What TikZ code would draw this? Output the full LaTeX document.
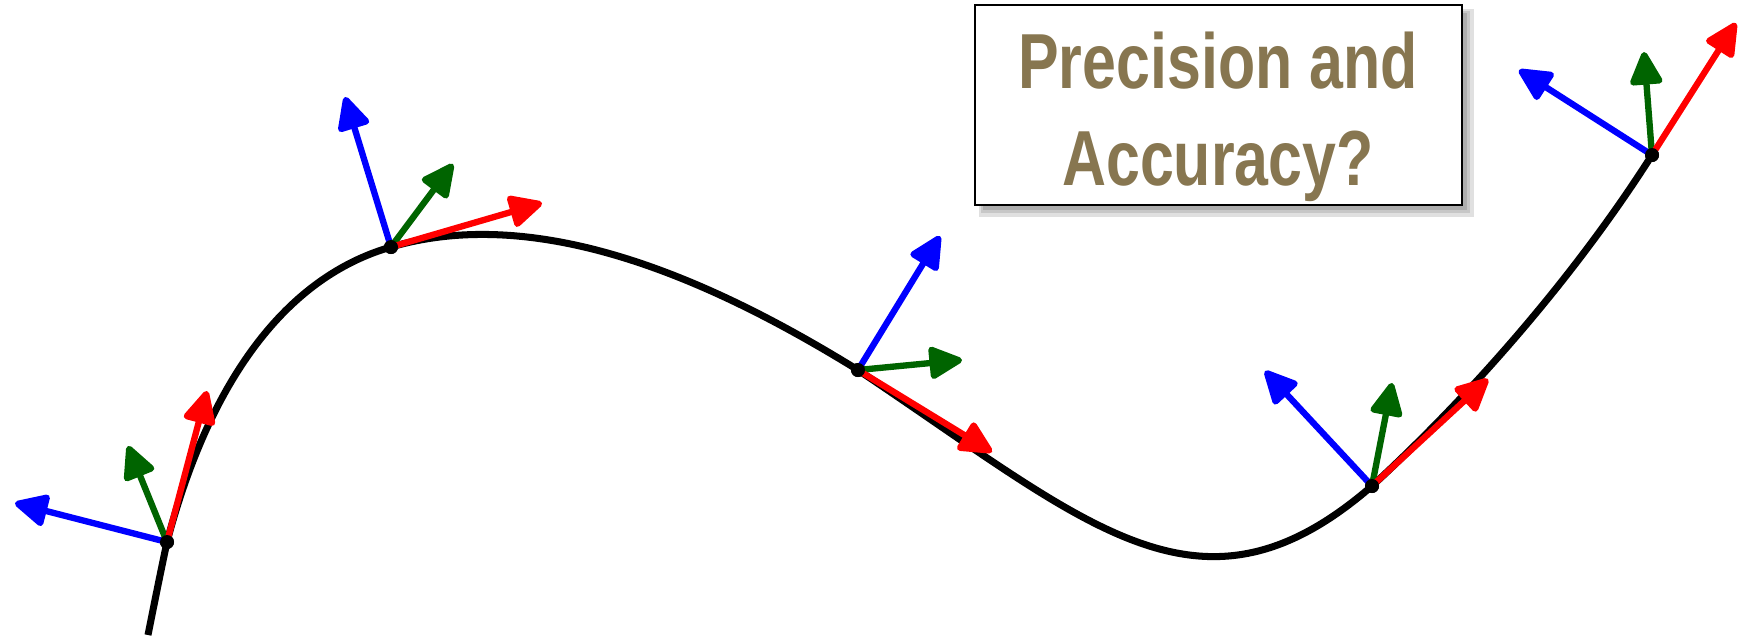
\documentclass[tikz,border=0pt]{standalone}
\usepackage{fontspec}
\usetikzlibrary{arrows.meta}
\newfontfamily\titlefont{Liberation Sans}[FakeStretch=0.78]
\definecolor{titlecol}{RGB}{135,118,80}
\definecolor{dkgreen}{RGB}{0,100,0}
\tikzset{
  vec/.style={line width=1.8pt, -{Triangle[length=10.5pt,width=9.8pt,round]}},
  curveline/.style={line width=2pt, black},
  dot/.style={circle, fill=black, inner sep=0pt, minimum size=0.14cm},
  titlebox/.style={draw=black, line width=0.6pt, fill=white, minimum width=4.87cm, minimum height=2cm, inner sep=0pt},
  titletext/.style={font=\titlefont\bfseries\fontsize{22.2}{27.6}\selectfont, text=titlecol, align=center, inner sep=0pt},
}
\begin{document}
\begin{tikzpicture}[x=0.01cm,y=-0.01cm]
\useasboundingbox (0,0) rectangle (1744,635);
% curve points
\coordinate (s) at (148,635);
\node[dot] (p1) at (167,542) {};
\node[dot] (p2) at (391,247) {};
\node[dot] (p3) at (858,370) {};
\node[dot] (p4) at (1372,486) {};
\node[dot] (p5) at (1652,155) {};
% arrow tips
\coordinate (b1) at (15,503);   \coordinate (g1) at (128,446);  \coordinate (r1) at (207,391);
\coordinate (b2) at (345,97);   \coordinate (g2) at (453,164);  \coordinate (r2) at (542,203);
\coordinate (b3) at (940,236);  \coordinate (g3) at (962,360);  \coordinate (r3) at (992,452);
\coordinate (b4) at (1265,371); \coordinate (g4) at (1392,383); \coordinate (r4) at (1488,379);
\coordinate (b5) at (1519,70);  \coordinate (g5) at (1644,52);  \coordinate (r5) at (1736,23);
% title box with shadow
\fill[black!12] (979,9) rectangle (1474,217);
\fill[black!22] (981,11) rectangle (1470,213);
\fill[black!32] (983,13) rectangle (1467,210);
\node[titlebox] (box) at (1218.5,105) {};
\node[titletext] (title) at (1218,117) {Precision and\\Accuracy?};
% curve
\draw[curveline] (s) .. controls (155,600) and (161,570) .. (p1.center)
  .. controls (200,416) and (266,283) .. (p2.center)
  .. controls (545,202) and (722,286) .. (p3.center)
  .. controls (1090,525) and (1200,635) .. (p4.center)
  .. controls (1475,391) and (1577,273) .. (p5.center);
% frames
\foreach \i in {1,...,5}{
  \draw[vec, blue] (p\i.center) -- (b\i);
  \draw[vec, dkgreen] (p\i.center) -- (g\i);
  \draw[vec, red] (p\i.center) -- (r\i);
}
\foreach \i in {1,...,5}{ \node[dot] at (p\i) {}; }
\end{tikzpicture}
\end{document}
